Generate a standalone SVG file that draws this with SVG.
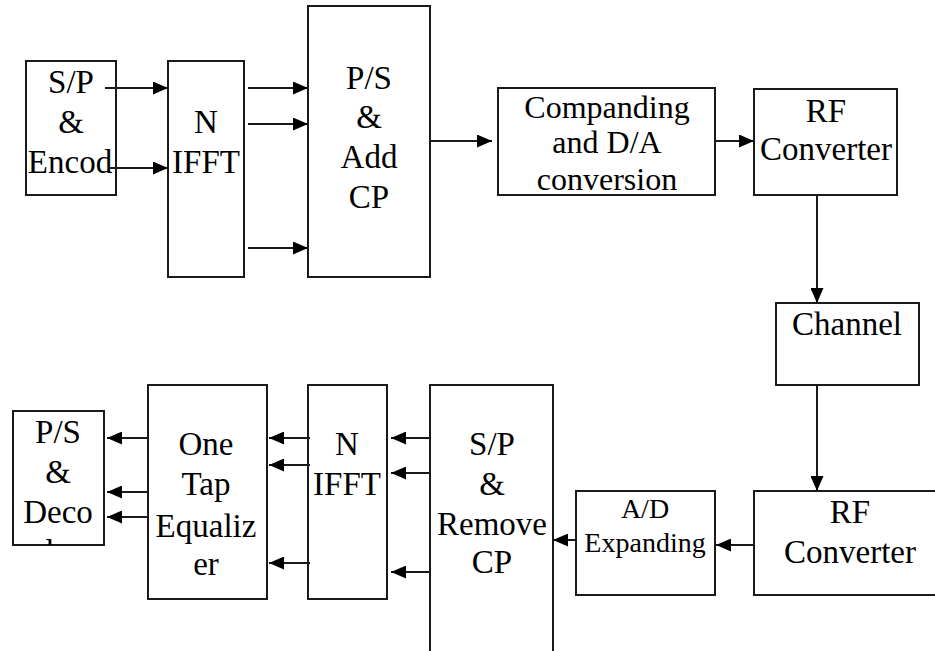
<svg xmlns="http://www.w3.org/2000/svg" width="935" height="651" viewBox="0 0 935 651">
<style>
.box{fill:#fff;stroke:#1a1a1a;stroke-width:2}
.t{font-family:"Liberation Serif","Times New Roman",serif;font-size:33px;fill:#000;text-anchor:middle}
.s32{font-size:32px}
.s28{font-size:28px}
.c{stroke:#1a1a1a;stroke-width:2;fill:none;marker-end:url(#ah)}
</style>
<defs>
<marker id="ah" viewBox="0 0 15 13" refX="15" refY="6.5" markerWidth="15" markerHeight="13" markerUnits="userSpaceOnUse" orient="auto">
<path d="M0,0 L15,6.5 L0,13 z" fill="#000"/>
</marker>
<clipPath id="clipDeco"><rect x="13" y="411" width="91" height="134"/></clipPath>
</defs>
<rect width="935" height="651" fill="#fff"/>

<g id="sp-encod">
<rect class="box" x="26" y="61" width="90" height="134"/>
<text class="t" x="71" y="93">S/P</text>
<text class="t" x="71" y="133">&amp;</text>
<text class="t" x="70" y="173">Encod</text>
</g>

<g id="n-ifft-tx">
<rect class="box" x="168" y="61" width="76" height="216"/>
<text class="t" x="206" y="133">N</text>
<text class="t" x="206" y="173">IFFT</text>
</g>

<g id="ps-addcp">
<rect class="box" x="308" y="6" width="122" height="271"/>
<text class="t" x="369" y="89">P/S</text>
<text class="t" x="369" y="128">&amp;</text>
<text class="t" x="369" y="168">Add</text>
<text class="t" x="369" y="208">CP</text>
</g>

<g id="companding">
<rect class="box" x="498" y="88" width="217" height="107"/>
<text class="t s32" x="607" y="118">Companding</text>
<text class="t s32" x="607" y="153">and D/A</text>
<text class="t s32" x="607" y="190">conversion</text>
</g>

<g id="rf-tx">
<rect class="box" x="754" y="89" width="143" height="106"/>
<text class="t" x="826" y="122">RF</text>
<text class="t" x="826" y="160">Converter</text>
</g>

<g id="channel">
<rect class="box" x="776" y="303" width="143" height="82"/>
<text class="t" x="847" y="335">Channel</text>
</g>

<g id="rf-rx">
<rect class="box" x="754" y="491" width="195" height="104"/>
<text class="t" x="850" y="523">RF</text>
<text class="t" x="850" y="563">Converter</text>
</g>

<g id="ad-expanding">
<rect class="box" x="576" y="491" width="139" height="104"/>
<text class="t s28" x="645" y="518">A/D</text>
<text class="t s28" x="645" y="552">Expanding</text>
</g>

<g id="sp-removecp">
<rect class="box" x="430" y="385" width="123" height="280"/>
<text class="t" x="492" y="455">S/P</text>
<text class="t" x="492" y="495">&amp;</text>
<text class="t" x="492" y="535">Remove</text>
<text class="t" x="492" y="573">CP</text>
</g>

<g id="n-ifft-rx">
<rect class="box" x="308" y="385" width="79" height="214"/>
<text class="t" x="347" y="455">N</text>
<text class="t" x="347" y="495">IFFT</text>
</g>

<g id="equalizer">
<rect class="box" x="148" y="385" width="119" height="214"/>
<text class="t" x="206" y="455">One</text>
<text class="t" x="206" y="495">Tap</text>
<text class="t" x="206" y="537">Equaliz</text>
<text class="t" x="206" y="575">er</text>
</g>

<g id="ps-deco">
<rect class="box" x="13" y="411" width="91" height="134"/>
<text class="t" x="58" y="443">P/S</text>
<text class="t" x="58" y="483">&amp;</text>
<text class="t" x="58" y="523">Deco</text>
<text class="t" x="58" y="563" clip-path="url(#clipDeco)">der</text>
</g>

<g id="connectors">
<line class="c" x1="105" y1="88" x2="168" y2="88"/>
<line class="c" x1="110" y1="168" x2="168" y2="168"/>
<line class="c" x1="248" y1="88" x2="308" y2="88"/>
<line class="c" x1="248" y1="124" x2="308" y2="124"/>
<line class="c" x1="248" y1="248" x2="308" y2="248"/>
<line class="c" x1="430" y1="141" x2="492" y2="141"/>
<line class="c" x1="715" y1="141" x2="754" y2="141"/>
<line class="c" x1="817" y1="195" x2="817" y2="303"/>
<line class="c" x1="817" y1="385" x2="817" y2="491"/>
<line class="c" x1="754" y1="545" x2="716" y2="545"/>
<line class="c" x1="576" y1="540" x2="553" y2="540"/>
<line class="c" x1="430" y1="438" x2="391" y2="438"/>
<line class="c" x1="430" y1="473" x2="391" y2="473"/>
<line class="c" x1="430" y1="572" x2="391" y2="572"/>
<line class="c" x1="310" y1="438" x2="269" y2="438"/>
<line class="c" x1="310" y1="465" x2="269" y2="465"/>
<line class="c" x1="310" y1="563" x2="269" y2="563"/>
<line class="c" x1="148" y1="438" x2="107" y2="438"/>
<line class="c" x1="148" y1="492" x2="107" y2="492"/>
<line class="c" x1="148" y1="517" x2="107" y2="517"/>
</g>
</svg>
